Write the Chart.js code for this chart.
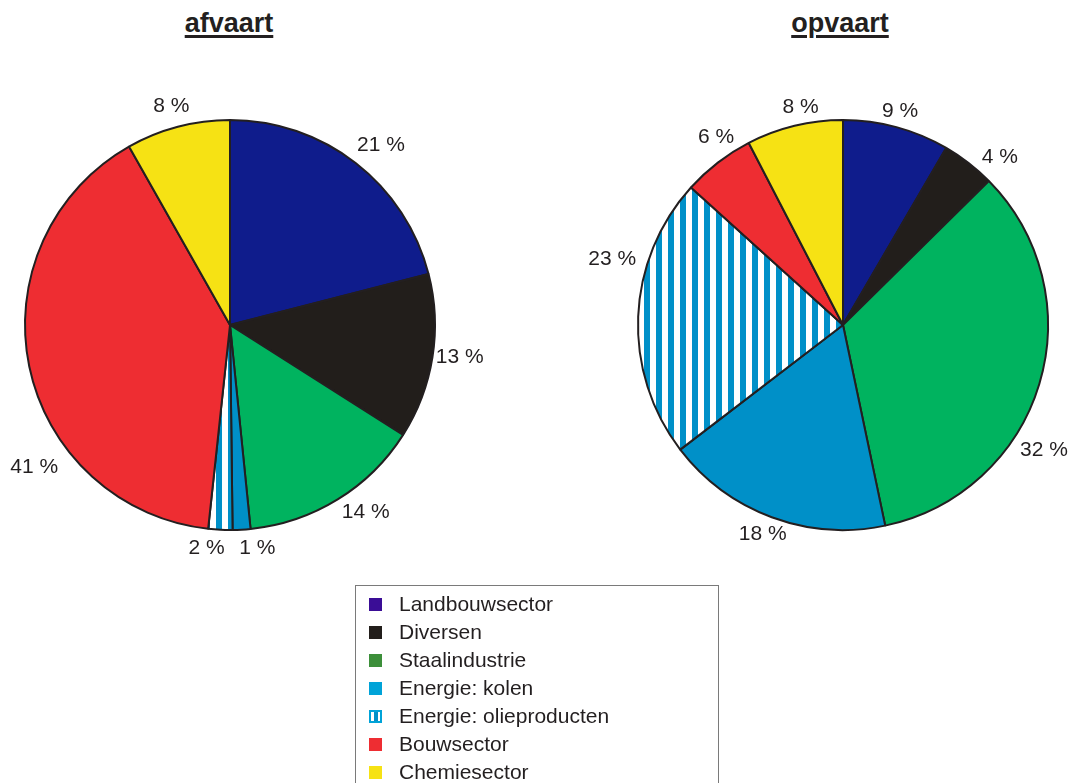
<!DOCTYPE html>
<html>
<head>
<meta charset="utf-8">
<script src="https://cdn.jsdelivr.net/npm/chart.js@4/dist/chart.umd.min.js"></script>
<style>
  body { margin: 0; width: 1068px; height: 783px; overflow: hidden; background: #fff;
         font-family: "Liberation Sans", Arial, sans-serif; color: #231f20; position: relative; }
  .title { position: absolute; top: 7px; font-weight: bold; font-size: 27px; line-height: 32px;
           text-decoration: underline; text-decoration-thickness: 3px; text-underline-offset: 3px; text-align: center; }
  #t1 { left: 0; width: 458px; }
  #t2 { left: 612px; width: 456px; }
  #c1 { position: absolute; left: 0; top: 0; }
  #c2 { position: absolute; left: 536px; top: 0; }
  #legend { position: absolute; left: 355px; top: 585px; width: 364px; height: 230px;
            border: 1px solid #7a7a7a; padding-top: 4px; box-sizing: border-box; }
  .row { height: 28px; line-height: 28px; font-size: 21px; position: relative; padding-left: 43px; white-space: nowrap; }
  .box { position: absolute; left: 13px; top: 8px; width: 13px; height: 13px; box-sizing: border-box; }
</style>
</head>
<body>
<div class="title" id="t1">afvaart</div>
<div class="title" id="t2">opvaart</div>
<canvas id="c1" width="536" height="600"></canvas>
<canvas id="c2" width="532" height="600"></canvas>
<div id="legend"></div>

<script>
const categories = ['Landbouwsector', 'Diversen', 'Staalindustrie', 'Energie: kolen', 'Energie: olieproducten', 'Bouwsector', 'Chemiesector'];
const afvaart = [21, 13, 14.4, 1.4, 1.9, 40.1, 8.2];
const opvaart = [8.4, 4.2, 34.1, 17.9, 22.1, 5.7, 7.6];

// percentages zoals ze bij de segmenten staan
const afvaartLabels = [21, 13, 14, 1, 2, 41, 8];
const opvaartLabels = [9, 4, 32, 18, 23, 6, 8];

// plaatsing van de labels (graden vanaf boven, afstand tot middelpunt)
const labelAnglesAfvaart = [40, 98, 144, 173, 186, 234, 345];
const labelDistAfvaart = [235, 232, 231, 225, 224, 242, 227];
const labelAnglesOpvaart = [15, 43, 122, 201, 286, 326, 349];
const labelDistOpvaart = [221, 230, 237, 224, 240, 227, 222];

const pieColors = ['#0f1c8c', '#221e1b', '#00b35f', '#0090c8', null, '#ee2d32', '#f6e214'];
const legendColors = ['#3a0d96', '#221e1b', '#3c8f3a', '#00a3d8', null, '#ee2d32', '#f6e214'];

function stripes() {
  const c = document.createElement('canvas');
  c.width = 12; c.height = 12;
  const g = c.getContext('2d');
  g.fillStyle = '#fff';
  g.fillRect(0, 0, 12, 12);
  g.fillStyle = '#0090c8';
  g.fillRect(0, 0, 6, 12);
  return g.createPattern(c, 'repeat');
}

const outsideLabels = {
  id: 'outsideLabels',
  afterDatasetsDraw(chart, args, opts) {
    const ctx = chart.ctx;
    const meta = chart.getDatasetMeta(0);
    ctx.save();
    ctx.font = '21px "Liberation Sans", Arial, sans-serif';
    ctx.fillStyle = '#231f20';
    ctx.textAlign = 'center';
    ctx.textBaseline = 'middle';
    meta.data.forEach((arc, i) => {
      const a = (opts.angles[i] - 90) * Math.PI / 180;
      const r = opts.dists[i];
      ctx.fillText(opts.texts[i] + ' %', arc.x + Math.cos(a) * r, arc.y + Math.sin(a) * r);
    });
    ctx.restore();
  }
};

function maakPie(id, data, texts, padding, angles, dists) {
  const ctx = document.getElementById(id).getContext('2d');
  const bg = pieColors.map(c => c || stripes());
  return new Chart(ctx, {
    type: 'pie',
    data: {
      labels: categories,
      datasets: [{ data, backgroundColor: bg, borderColor: '#231f20', borderWidth: 2 }]
    },
    options: {
      responsive: false,
      animation: false,
      layout: { padding },
      plugins: {
        legend: { display: false },
        tooltip: { enabled: false },
        outsideLabels: { angles, dists, texts }
      }
    },
    plugins: [outsideLabels]
  });
}

maakPie('c1', afvaart, afvaartLabels, { left: 24, right: 100, top: 119, bottom: 69 }, labelAnglesAfvaart, labelDistAfvaart);
maakPie('c2', opvaart, opvaartLabels, { left: 101, right: 19, top: 119, bottom: 69 }, labelAnglesOpvaart, labelDistOpvaart);

// legenda
const legend = document.getElementById('legend');
categories.forEach((cat, i) => {
  const row = document.createElement('div');
  row.className = 'row';
  const box = document.createElement('span');
  box.className = 'box';
  if (legendColors[i]) {
    box.style.background = legendColors[i];
  } else {
    box.style.border = '2px solid #00a3d8';
    box.style.background = 'linear-gradient(to right, #fff 0 3px, #0090c8 3px 7px, #fff 7px)';
  }
  row.appendChild(box);
  row.appendChild(document.createTextNode(cat));
  legend.appendChild(row);
});
</script>
</body>
</html>
